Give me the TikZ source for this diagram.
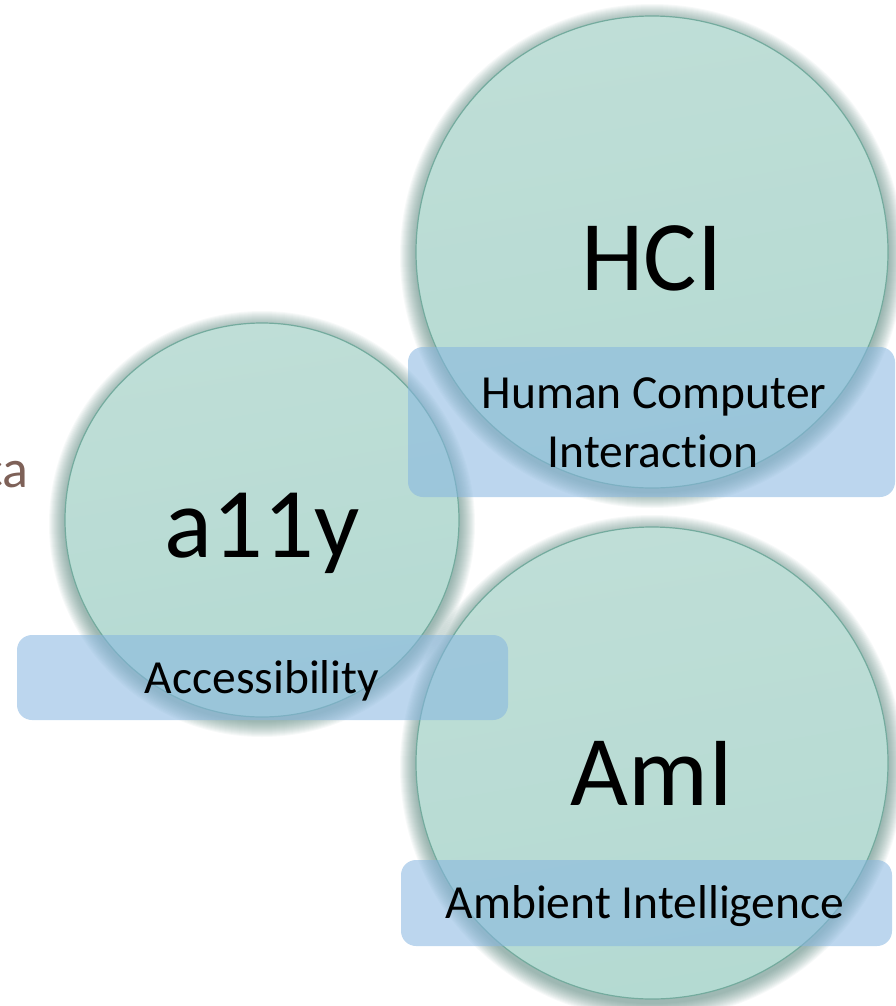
\documentclass[tikz,border=0pt]{standalone}
\usepackage{fontspec}
\setmainfont{Carlito}[Ligatures=NoCommon]

\definecolor{disc}{HTML}{A6D3C8}
\definecolor{discedge}{HTML}{BFDED7}
\definecolor{discright}{HTML}{B4DAD2}
\definecolor{rim}{HTML}{74AB9E}
\definecolor{halo}{HTML}{3F7268}
\definecolor{tag}{HTML}{85B5E0}
\definecolor{aside}{HTML}{7E6158}

\tikzset{
  bubble/.style={circle, draw=rim, line width=1.2pt, inner sep=0pt,
    left color=discedge, middle color=disc, right color=discright, shading angle=10},
  tagbox/.style={rounded corners=15pt, fill=tag, fill opacity=0.55, inner sep=0pt},
  bigword/.style={font=\fontsize{100}{120}\selectfont, inner sep=0pt, anchor=base},
  caption/.style={font=\fontsize{47.5}{58}\selectfont, inner sep=0pt, anchor=base},
}

% soft shadow under a disc: stacked translucent circles, slightly lowered
\newcommand\discglow[3]{%
  \foreach \s in {1,...,16}{%
    \fill[halo, opacity=0.045] (#1,#2) circle [radius={(#3+\s)*1pt}];}}

\begin{document}
\begin{tikzpicture}[x=1pt,y=-1pt]
  \useasboundingbox (0,0) rectangle (896,1006);

  % shadows
  \discglow{652}{256}{236}
  \discglow{262}{524}{197}
  \discglow{652}{767}{236}

  % discs
  \node[bubble, minimum size=472pt] (hci)  at (652,252) {};
  \node[bubble, minimum size=394pt] (ally) at (262,520) {};
  \node[bubble, minimum size=472pt] (ami)  at (652,763) {};

  % caption bands
  \node[tagbox, minimum width=487pt, minimum height=150pt] (hcibox)  at (651.5,422) {};
  \node[tagbox, minimum width=491pt, minimum height=85pt]  (allybox) at (262.5,677.5) {};
  \node[tagbox, minimum width=491pt, minimum height=86pt]  (amibox)  at (646.5,903) {};

  % words
  \node[bigword] (hcit)  at (652,290) {HCI};
  \node[bigword] (allyt) at (262,557) {a11y};
  \node[bigword] (amit)  at (652,805) {AmI};

  \node[caption] (hcic1) at (654,408) {Human Computer};
  \node[caption] (hcic2) at (653,467) {Interaction};
  \node[caption] (allyc) at (262,693) {Accessibility};
  \node[caption] (amic)  at (645,918) {Ambient Intelligence};

  % text running in from the left edge
  \node[font=\fontsize{54}{60}\selectfont, text=aside, inner sep=0pt, anchor=base east] (side) at (29,487) {ca};
\end{tikzpicture}
\end{document}
